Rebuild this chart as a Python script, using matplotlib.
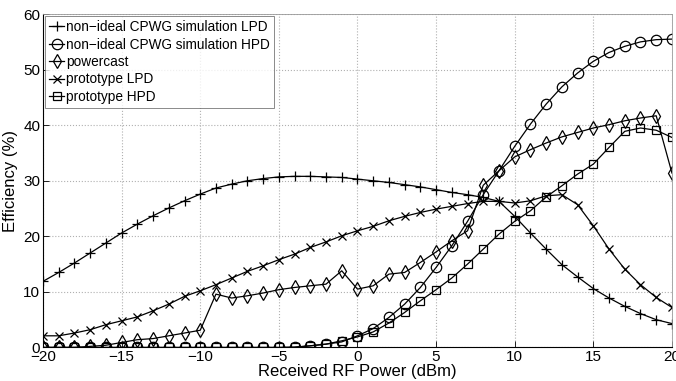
import matplotlib
matplotlib.use("Agg")
import matplotlib.pyplot as plt
import numpy as np

plt.rcParams['font.family'] = ['Liberation Sans', 'DejaVu Sans']

power_dbm = list(range(-20, 21))

sim_lpd = [11.9, 13.5, 15.2, 17.0, 18.8, 20.6, 22.2, 23.7, 25.1, 26.4,
           27.6, 28.7, 29.4, 30.0, 30.4, 30.7, 30.8, 30.8, 30.7, 30.6,
           30.3, 30.0, 29.7, 29.3, 28.9, 28.4, 27.9, 27.5, 27.0, 26.3,
           23.6, 20.6, 17.7, 14.9, 12.7, 10.6, 8.9, 7.4, 6.1, 5.0, 4.3]

sim_hpd = [0.0, 0.0, 0.0, 0.0, 0.0, 0.0, 0.0, 0.0, 0.0, 0.0,
           0.0, 0.0, 0.0, 0.0, 0.0, 0.0, 0.05, 0.3, 0.6, 1.0,
           2.1, 3.4, 5.4, 7.8, 10.8, 14.4, 18.3, 22.7, 27.5, 31.8,
           36.2, 40.2, 43.8, 46.9, 49.4, 51.5, 53.1, 54.2, 55.0, 55.4, 55.5]

powercast = [0.0, 0.0, 0.0, 0.2, 0.4, 0.9, 1.4, 1.6, 2.1, 2.6,
             3.1, 9.6, 8.9, 9.3, 9.8, 10.4, 10.8, 11.1, 11.4, 13.8,
             10.5, 11.1, 13.2, 13.5, 15.3, 17.2, 19.2, 21.0, 29.2, 31.8,
             34.3, 35.6, 36.8, 37.9, 38.7, 39.5, 40.1, 40.8, 41.3, 41.7, 31.4]

proto_lpd = [2.1, 2.1, 2.6, 3.2, 4.1, 4.8, 5.5, 6.6, 7.8, 9.2,
             10.2, 11.3, 12.5, 13.7, 14.7, 15.8, 16.8, 18.0, 19.0, 20.1,
             21.0, 21.8, 22.8, 23.6, 24.3, 24.9, 25.4, 25.9, 26.3, 26.3,
             26.0, 26.4, 27.3, 27.5, 25.7, 21.9, 17.7, 14.1, 11.3, 9.0, 7.2]

proto_hpd = [0.0, 0.0, 0.0, 0.0, 0.0, 0.0, 0.0, 0.0, 0.0, 0.0,
             0.0, 0.0, 0.0, 0.0, 0.0, 0.0, 0.05, 0.3, 0.6, 1.2,
             1.9, 2.8, 4.4, 6.3, 8.4, 10.4, 12.5, 15.0, 17.7, 20.4,
             22.7, 24.6, 27.1, 29.1, 31.2, 33.0, 36.0, 38.9, 39.5, 39.1, 37.8]

labels = ['non\u2212ideal CPWG simulation LPD',
          'non\u2212ideal CPWG simulation HPD',
          'powercast', 'prototype LPD', 'prototype HPD']
xticks = [-20, -15, -10, -5, 0, 5, 10, 15, 20]
yticks = [0, 10, 20, 30, 40, 50, 60]

fig = plt.figure(figsize=(6.76, 3.81), dpi=100)
ax = fig.add_axes([0.0636, 0.088, 0.9304, 0.875])

series = [(sim_lpd, '+'), (sim_hpd, 'o'), (powercast, 'd'),
          (proto_lpd, 'x'), (proto_hpd, 's')]
sizes = {'+': 7.5, 'o': 7.5, 'd': 7.5, 'x': 5.5, 's': 5.8}
for (vals, m), lab in zip(series, labels):
    ax.plot(power_dbm, vals, color='black', lw=0.9, marker=m,
            ms=sizes[m], mfc='none', mec='black', mew=0.9, label=lab)

ax.set_xlim(-20, 20)
ax.set_ylim(0, 60)
ax.set_xticks(xticks)
ax.set_yticks(yticks)
ax.grid(True, linestyle=':', color='#b0b0b0', linewidth=0.8)
ax.tick_params(direction='in', labelsize=11, length=4, width=0.6, pad=2)
for s in ['top', 'right']:
    ax.spines[s].set_color('#999999')
    ax.spines[s].set_linewidth(0.6)
for s in ['left', 'bottom']:
    ax.spines[s].set_linewidth(0.8)

ax.set_xlabel('Received RF Power (dBm)', fontsize=12, labelpad=-0.5)
ax.set_ylabel('Efficiency (%)', fontsize=12, labelpad=4)

leg = ax.legend(loc='upper left', fontsize=9.8, frameon=True, fancybox=False,
                handlelength=1.1, handletextpad=0.15, borderpad=0.3,
                labelspacing=0.25, borderaxespad=0.15)
leg.get_frame().set_edgecolor('#555555')
leg.get_frame().set_linewidth(0.6)

fig.savefig('out.png', dpi=100)
